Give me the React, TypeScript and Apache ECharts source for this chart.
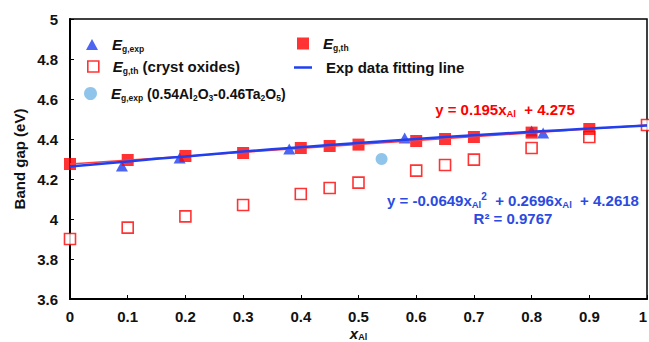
import React, { useEffect, useRef } from "react";
import * as echarts from "echarts";

// ---- data ----
const expX = [0.09, 0.19, 0.38, 0.58, 0.8, 0.82];
const expY = [4.265, 4.305, 4.35, 4.405, 4.44, 4.43];

const thX = [0, 0.1, 0.2, 0.3, 0.4, 0.45, 0.5, 0.6, 0.65, 0.7, 0.8, 0.9];
const thY = [4.275, 4.295, 4.315, 4.33, 4.355, 4.365, 4.372, 4.39, 4.4, 4.41, 4.432, 4.45];

const crystX = [0, 0.1, 0.2, 0.3, 0.4, 0.45, 0.5, 0.6, 0.65, 0.7, 0.8, 0.9, 1.0];
const crystY = [3.9, 3.957, 4.013, 4.07, 4.125, 4.155, 4.182, 4.242, 4.27, 4.297, 4.355, 4.41, 4.47];

const mixX = [0.54];
const mixY = [4.3];

// fitting line
const fitX = [0, 0.1, 0.2, 0.3, 0.4, 0.5, 0.6, 0.7, 0.8, 0.9, 1.0];
const fitY = [4.262, 4.288, 4.313, 4.337, 4.359, 4.38, 4.4, 4.419, 4.436, 4.452, 4.467];

const thLineX = [0, 1];
const thLineY = [4.275, 4.47];

const yTicks = { min: 3.6, max: 5, interval: 0.2 };
const xTicks = { min: 0, max: 1, interval: 0.1 };

const NAMES = {
  exp: "Eg,exp",
  cryst: "Eg,th (cryst oxides)",
  mix: "Eg,exp (0.54Al2O3-0.46Ta2O5)",
  th: "Eg,th",
  fit: "Exp data fitting line",
};

const LEGEND_TEXT: Record<string, string> = {
  [NAMES.exp]: "{e|E}{s|g,exp}",
  [NAMES.cryst]: "{e|E}{s|g,th}{n| (cryst oxides)}",
  [NAMES.mix]: "{e|E}{s|g,exp}{m| (0.54Al}{s|2}{m|O}{s|3}{m|-0.46Ta}{s|2}{m|O}{s|5}{m|)}",
  [NAMES.th]: "{e|E}{s|g,th}",
  [NAMES.fit]: "{n|Exp data fitting line}",
};

const zip = (xs: number[], ys: number[]) => xs.map((x, i) => [x, ys[i]]);

const FONT = "Liberation Sans, Arial, sans-serif";
const BLUE = "#1f3ff0";
const RED = "#ff0000";
const LIGHTBLUE = "#74b6e6";
const EQBLUE = "#2b4be0";

const richBase = {
  e: { fontStyle: "italic", fontWeight: "bold", fontSize: 15, lineHeight: 18, fontFamily: FONT, color: "#111" },
  n: { fontWeight: "bold", fontSize: 15, lineHeight: 18, fontFamily: FONT, color: "#111" },
  m: { fontWeight: "bold", fontSize: 14, lineHeight: 18, fontFamily: FONT, color: "#111" },
  s: { fontWeight: "bold", fontSize: 8.5, lineHeight: 9, verticalAlign: "bottom", fontFamily: FONT, color: "#111" },
};

function legendAt(name: string, icon: string, itemStyle: any, left: number, top: number, w = 12, h = 12) {
  return {
    show: true,
    left,
    top,
    orient: "vertical",
    padding: 0,
    itemWidth: w,
    itemHeight: h,
    selectedMode: false,
    data: [{ name, icon, itemStyle }],
    formatter: (n: string) => LEGEND_TEXT[n] || n,
    textStyle: { rich: richBase, padding: [0, 0, 0, 9] },
  };
}

const axisLabelStyle = {
  fontSize: 15,
  fontWeight: "bold",
  color: "#111",
  fontFamily: FONT,
  formatter: (v: number) => String(Math.round(v * 10) / 10),
};

export default function App() {
  const ref = useRef<HTMLDivElement>(null);
  useEffect(() => {
    if (!ref.current) return;
    const chart = echarts.init(ref.current, undefined, { renderer: "svg" });
    const option: any = {
      animation: false,
      backgroundColor: "#fff",
      textStyle: { fontFamily: FONT },
      grid: {
        left: 70,
        right: 2,
        top: 19,
        bottom: 43,
        outerBoundsMode: "none",
        containLabel: false,
        show: true,
        borderColor: "#000",
        borderWidth: 1.5,
      },
      legend: [
        legendAt(NAMES.exp, "triangle", { color: BLUE }, 86, 37, 12, 11),
        legendAt(NAMES.cryst, "rect", { color: "#fff", borderColor: RED, borderWidth: 1.6 }, 87, 59, 11, 11),
        legendAt(NAMES.mix, "circle", { color: LIGHTBLUE }, 84, 86, 13, 13),
        legendAt(NAMES.th, "rect", { color: RED }, 297, 36, 12, 12),
        legendAt(NAMES.fit, "rect", { color: BLUE }, 294, 60, 18, 2.5),
      ],
      xAxis: {
        type: "value",
        min: xTicks.min,
        max: xTicks.max,
        interval: xTicks.interval,
        name: "{x|x}{s|Al}",
        nameLocation: "middle",
        nameGap: 26,
        nameMoveOverlap: false,
        nameTextStyle: {
          rich: {
            x: { fontStyle: "italic", fontWeight: "bold", fontSize: 15, lineHeight: 16, color: "#111", fontFamily: FONT },
            s: { fontWeight: "bold", fontSize: 9, lineHeight: 9, verticalAlign: "bottom", color: "#111", fontFamily: FONT },
          },
        },
        axisLine: { show: true, lineStyle: { color: "#000", width: 2 } },
        axisTick: { show: true, inside: true, length: 4, lineStyle: { color: "#000", width: 1 } },
        splitLine: { show: false },
        axisLabel: { ...axisLabelStyle, margin: 10, alignMaxLabel: "right" },
      },
      yAxis: {
        type: "value",
        min: yTicks.min,
        max: yTicks.max,
        interval: yTicks.interval,
        name: "Band gap (eV)",
        nameLocation: "middle",
        nameGap: 43,
        nameMoveOverlap: false,
        nameTextStyle: { fontSize: 15, fontWeight: "bold", color: "#111", fontFamily: FONT },
        axisLine: { show: true, lineStyle: { color: "#000", width: 2 } },
        axisTick: { show: true, inside: true, length: 4, lineStyle: { color: "#000", width: 1 } },
        splitLine: { show: false },
        axisLabel: { ...axisLabelStyle, margin: 12 },
      },
      series: [
        {
          name: NAMES.cryst,
          type: "scatter",
          symbol: "rect",
          symbolSize: 11,
          data: zip(crystX, crystY),
          itemStyle: { color: "#fff", borderColor: RED, borderWidth: 1.6 },
          z: 2,
        },
        {
          name: NAMES.mix,
          type: "scatter",
          symbol: "circle",
          symbolSize: 12,
          data: zip(mixX, mixY),
          itemStyle: { color: LIGHTBLUE },
          z: 2,
        },
        {
          name: NAMES.exp,
          type: "scatter",
          symbol: "triangle",
          symbolSize: [12, 11],
          data: zip(expX, expY),
          itemStyle: { color: BLUE },
          z: 3,
        },
        {
          name: NAMES.th,
          type: "scatter",
          symbol: "rect",
          symbolSize: 12,
          data: zip(thX, thY),
          itemStyle: { color: RED },
          z: 4,
        },
        {
          name: "th-fit",
          type: "line",
          data: zip(thLineX, thLineY),
          showSymbol: false,
          symbol: "none",
          lineStyle: { color: "#ff4040", width: 1.5 },
          z: 5,
        },
        {
          name: NAMES.fit,
          type: "line",
          data: zip(fitX, fitY),
          showSymbol: false,
          symbol: "none",
          smooth: true,
          lineStyle: { color: BLUE, width: 2.5 },
          z: 6,
        },
      ],
      graphic: [
        {
          type: "text",
          x: 505,
          y: 109,
          style: {
            text: "{n|y = 0.195x}{s|Al}{n|  + 4.275}",
            align: "center",
            verticalAlign: "middle",
            rich: {
              n: { fontWeight: "bold", fontSize: 15, lineHeight: 18, fill: RED, fontFamily: FONT },
              s: { fontWeight: "bold", fontSize: 9.5, lineHeight: 10, verticalAlign: "bottom", fill: RED, fontFamily: FONT },
            },
          },
        },
        {
          type: "text",
          x: 513,
          y: 200,
          style: {
            text: "{n|y = -0.0649x}{s|Al}{p|2}{n|  + 0.2696x}{s|Al}{n|  + 4.2618}",
            align: "center",
            verticalAlign: "middle",
            rich: {
              n: { fontWeight: "bold", fontSize: 15, lineHeight: 18, fill: EQBLUE, fontFamily: FONT },
              s: { fontWeight: "bold", fontSize: 9.5, lineHeight: 10, verticalAlign: "bottom", fill: EQBLUE, fontFamily: FONT },
              p: { fontWeight: "bold", fontSize: 10, lineHeight: 12, verticalAlign: "top", fill: EQBLUE, fontFamily: FONT },
            },
          },
        },
        {
          type: "text",
          x: 513,
          y: 218,
          style: {
            text: "R² = 0.9767",
            align: "center",
            verticalAlign: "middle",
            fontWeight: "bold",
            fontSize: 15,
            fill: EQBLUE,
            fontFamily: FONT,
          },
        },
      ],
    };
    chart.setOption(option);
    return () => chart.dispose();
  }, []);
  return <div ref={ref} style={{ width: 649, height: 342, position: "absolute", left: 0, top: 0 }} />;
}
